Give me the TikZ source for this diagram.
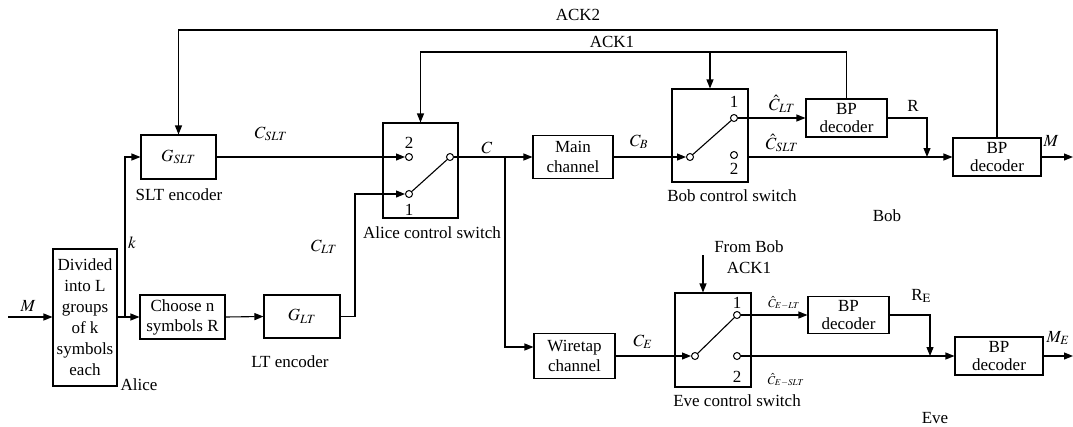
\documentclass[tikz,border=0pt]{standalone}
\usepackage{mathptmx}
\usepackage{fontspec}
\setmainfont{Liberation Serif}
\usepackage{tikz}
\usetikzlibrary{arrows.meta, positioning, calc}

\tikzset{
  block/.style={draw, line width=1.1pt, align=center, inner sep=0pt},
  port/.style={draw, circle, line width=1pt, inner sep=0pt, minimum size=7pt, fill=white},
  sig/.style={line width=1.1pt, -{Triangle[length=9pt,width=7pt]}},
  link/.style={line width=1.1pt},
  small/.style={font=\fontsize{12}{14}\selectfont},
}

\begin{document}
\begin{tikzpicture}[x=1pt, y=-1pt, font=\fontsize{17}{20}\selectfont]

  \useasboundingbox (0,0) rectangle (1073,426);

  % Key coordinates (pixel grid, y pointing down)
  \coordinate (Min) at (8,317);      % message in
  \coordinate (ksplit) at (125,317); % k branch
  \coordinate (lturn) at (355,316);  % LT output bend
  \coordinate (csplit) at (505,157); % C branch to Eve
  \coordinate (ack1) at (0,52);      % ACK1 level
  \coordinate (ack2) at (0,30);      % ACK2 level
  \coordinate (rjoin) at (927,157);
  \coordinate (rejoin) at (930,356);
  \coordinate (Mout) at (1073,157);
  \coordinate (MEout) at (1073,356);
  \coordinate (fromBob) at (703,255);

  % --- ALICE ---
  \node[block, minimum width=64pt, minimum height=137pt, font=\fontsize{17}{21}\selectfont] (divide) at (85,317.5) {Divided\\into L\\groups\\of k\\symbols\\each};
  \node[block, minimum width=85pt, minimum height=44pt] (choose) at (182.5,317) {Choose n\\symbols R};
  \node[block, minimum width=75pt, minimum height=44pt] (gslt) at (178.5,157) {$G_{SLT}$};
  \node[block, minimum width=76pt, minimum height=43pt] (glt) at (302,316.5) {$G_{LT}$};
  % Alice control switch
  \node[block, minimum width=75pt, minimum height=95pt] (aliceSw) at (420.5,170.5) {};
  \node[port] (a2) at (409,157) {};
  \node[port] (a1) at (409,194) {};
  \node[port] (aout) at (450,157) {};
  \node (a2lbl) at (409,143) {2};
  \node (a1lbl) at (409,210) {1};

  % --- CHANNELS ---
  \node[block, minimum width=80pt, minimum height=43pt] (main) at (573,157) {Main\\channel};
  \node[block, minimum width=81pt, minimum height=45pt] (wtap) at (574.5,356) {Wiretap\\channel};

  % --- BOB ---
  \node[block, minimum width=76pt, minimum height=93pt] (bobSw) at (710,135.5) {};
  \node[port] (bin) at (690,157) {};
  \node[port] (b1) at (734,118) {};
  \node[port] (b2) at (734,155) {};
  \node (b1lbl) at (734,102) {1};
  \node (b2lbl) at (734,169) {2};
  \node[block, minimum width=81pt, minimum height=38pt, font=\fontsize{17}{18}\selectfont] (bp1) at (846.5,118) {BP\\decoder};
  \node[block, minimum width=88pt, minimum height=38pt, font=\fontsize{17}{18}\selectfont] (bp2) at (997,157) {BP\\decoder};

  % --- EVE ---
  \node[block, minimum width=76pt, minimum height=94pt] (eveSw) at (713,340) {};
  \node[port] (ein) at (695,356) {};
  \node[port] (e1) at (737,315) {};
  \node[port] (e2) at (737,356) {};
  \node (e1lbl) at (737,303) {1};
  \node (e2lbl) at (737,377) {2};
  \node[block, minimum width=81pt, minimum height=37pt, font=\fontsize{17}{18}\selectfont] (bp3) at (848.5,315) {BP\\decoder};
  \node[block, minimum width=88pt, minimum height=38pt, font=\fontsize{17}{18}\selectfont] (bp4) at (999,356) {BP\\decoder};

  % Alice paths
  \draw[sig] (Min) -- (divide.west |- Min);
  \draw[sig] (divide.east |- choose.west) -- (choose.west);
  \draw[sig] (ksplit) |- (gslt.west);
  \draw[sig] (choose.east) -- (glt.west);
  \draw[sig] (gslt.east) -- (a2.west);
  \draw[sig] (glt.east) -| (lturn |- a1) -- (a1.west);
  \draw[link] (a1) -- (aout);
  \draw[sig] (aout.east) -- (main.west);
  \draw[sig] (csplit) |- ([yshift=9pt]wtap.west);

  % Bob paths
  \draw[sig] (main.east) -- (bin.west);
  \draw[link] (bin) -- (b1);
  \draw[sig] (b1.east) -- (bp1.west);
  \draw[sig] (bobSw.east |- bp2.west) -- (bp2.west);
  \draw[sig] (bp1.east) -| (rjoin);
  \draw[sig] (bp2.east) -- (Mout);

  % Feedback ACK1 / ACK2
  \draw[sig] (bp1.north) -- (bp1.north |- ack1) -| (aliceSw.north);
  \draw[sig] (bobSw.north |- ack1) -- (bobSw.north);
  \draw[sig] (bp2.north) -- (bp2.north |- ack2) -| (gslt.north);

  % Eve paths
  \draw[sig] (wtap.east) -- (ein.west);
  \draw[link] (ein) -- (e1);
  \draw[sig] (e1.east) -- (bp3.west);
  \draw[sig] (e2.east) -- (bp4.west);
  \draw[sig] (bp3.east) -| (rejoin);
  \draw[sig] (bp4.east) -- (MEout);
  \draw[sig] (fromBob) -- (fromBob |- eveSw.north);

  % Signal labels
  \node (lM) at (28,306) {$M$};
  \node (lk) at (132,243) {$k$};
  \node (lCslt) at (271,134) {$C_{SLT}$};
  \node (lClt) at (324,247) {$C_{LT}$};
  \node (lC) at (487,148) {$C$};
  \node (lCB) at (639,142) {$C_B$};
  \node (lChlt) at (782,104) {$\hat{C}_{LT}$};
  \node (lChslt) at (782,143) {$\hat{C}_{SLT}$};
  \node (lR) at (913,106) {R};
  \node (lMout) at (1051,141) {$M$};
  \node (lACK1) at (612,42) {ACK1};
  \node (lACK2) at (578,15) {ACK2};
  \node (lCE) at (643,342) {$C_E$};
  \node[small] (lCelt) at (784,303) {$\hat{C}_{E-LT}$};
  \node[small] (lCeslt) at (786,380) {$\hat{C}_{E-SLT}$};
  \node (lRE) at (921,296) {R$_\mathrm{E}$};
  \node (lME) at (1058,338) {$M_E$};
  \node[align=center, font=\fontsize{17}{21}\selectfont] (lfrom) at (749,257) {From Bob\\ACK1};

  % Captions
  \node (cAlice) at (139,385) {Alice};
  \node (cSLT) at (179,195) {SLT encoder};
  \node (cLT) at (290,362) {LT encoder};
  \node (cAsw) at (432,233) {Alice control switch};
  \node (cBsw) at (732,196) {Bob control switch};
  \node (cBob) at (887,216) {Bob};
  \node (cEsw) at (737,401) {Eve control switch};
  \node (cEve) at (935,418) {Eve};
\end{tikzpicture}
\end{document}
